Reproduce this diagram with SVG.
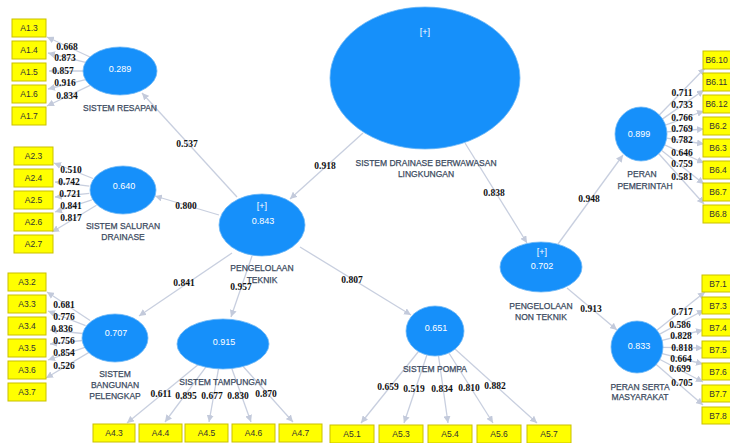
<svg xmlns="http://www.w3.org/2000/svg" width="730" height="443" viewBox="0 0 730 443">
<defs>
<marker id="ah" viewBox="0 0 10 10" refX="10" refY="5" markerWidth="7" markerHeight="7" markerUnits="userSpaceOnUse" orient="auto">
<path d="M0,0 L10,5 L0,10 z" fill="#c3cadb"/>
</marker>
<style>
.cn{stroke:#c8cfdf;stroke-width:1.3;fill:none;marker-end:url(#ah)}
.lv{fill:#1690fa;stroke:#6cb6f5;stroke-width:0.8}
.ind{fill:#ffff00;stroke:#c9c000;stroke-width:1}
.it{font-family:"Liberation Sans",Arial,sans-serif;font-size:8.5px;fill:#333;text-anchor:middle}
.vv{font-family:"Liberation Sans",Arial,sans-serif;font-size:9px;fill:#ffffff;text-anchor:middle}
.lb{font-family:"Liberation Sans",Arial,sans-serif;font-size:8.5px;fill:#3b4a60;stroke:#3b4a60;stroke-width:0.25;text-anchor:middle}
.ld{font-family:"Liberation Serif","Times New Roman",serif;font-size:9.5px;font-weight:bold;fill:#111;text-anchor:middle}
</style>
</defs>
<rect width="730" height="443" fill="#ffffff"/>

<g id="connectors">
<line class="cn" x1="363" y1="133" x2="290" y2="199"/>
<line class="cn" x1="465" y1="143" x2="527" y2="243"/>
<line class="cn" x1="237" y1="197" x2="142" y2="93"/>
<line class="cn" x1="219" y1="215" x2="155" y2="196"/>
<line class="cn" x1="232" y1="253" x2="139" y2="316"/>
<line class="cn" x1="252" y1="256" x2="231" y2="317"/>
<line class="cn" x1="300" y1="247" x2="411" y2="315"/>
<line class="cn" x1="558" y1="244" x2="623" y2="155"/>
<line class="cn" x1="567" y1="288" x2="617" y2="330"/>
<line class="cn" x1="90" y1="57" x2="47" y2="37"/>
<line class="cn" x1="85.5" y1="62.4" x2="48" y2="53"/>
<line class="cn" x1="83" y1="71" x2="49" y2="71"/>
<line class="cn" x1="85.5" y1="79.6" x2="48" y2="89"/>
<line class="cn" x1="90" y1="85.3" x2="47" y2="106"/>
<line class="cn" x1="93" y1="178.5" x2="54" y2="163"/>
<line class="cn" x1="89.4" y1="186.1" x2="55" y2="182"/>
<line class="cn" x1="89.3" y1="193.4" x2="55" y2="197"/>
<line class="cn" x1="91.9" y1="199.9" x2="55" y2="212"/>
<line class="cn" x1="96.5" y1="205.3" x2="52" y2="232"/>
<line class="cn" x1="90.1" y1="320.5" x2="47" y2="292"/>
<line class="cn" x1="85.6" y1="325.6" x2="48" y2="311"/>
<line class="cn" x1="82.3" y1="333.5" x2="50" y2="330"/>
<line class="cn" x1="82.3" y1="340.5" x2="50" y2="344"/>
<line class="cn" x1="84.9" y1="347.3" x2="48" y2="360"/>
<line class="cn" x1="89" y1="352.4" x2="46" y2="378"/>
<line class="cn" x1="197.7" y1="364.9" x2="127" y2="423"/>
<line class="cn" x1="205.8" y1="367.2" x2="165" y2="422"/>
<line class="cn" x1="218.5" y1="368.9" x2="209" y2="422"/>
<line class="cn" x1="231.8" y1="368.5" x2="251" y2="422"/>
<line class="cn" x1="243.2" y1="366.5" x2="293" y2="422"/>
<line class="cn" x1="418.5" y1="351.5" x2="361" y2="423"/>
<line class="cn" x1="426.9" y1="355" x2="404" y2="423"/>
<line class="cn" x1="438.5" y1="355.8" x2="448" y2="423"/>
<line class="cn" x1="448.9" y1="353" x2="493" y2="423"/>
<line class="cn" x1="455" y1="349" x2="537" y2="423"/>
<line class="cn" x1="659.1" y1="115.3" x2="705" y2="68"/>
<line class="cn" x1="662.3" y1="119.1" x2="704" y2="90"/>
<line class="cn" x1="665.4" y1="125.1" x2="704" y2="111"/>
<line class="cn" x1="666.9" y1="131.9" x2="704" y2="129"/>
<line class="cn" x1="666.7" y1="138.1" x2="704" y2="144"/>
<line class="cn" x1="664.6" y1="144.9" x2="704" y2="163"/>
<line class="cn" x1="661.4" y1="150.2" x2="704" y2="184"/>
<line class="cn" x1="658.4" y1="153.3" x2="704" y2="204"/>
<line class="cn" x1="656.3" y1="330.8" x2="705" y2="292"/>
<line class="cn" x1="658.8" y1="334.6" x2="704" y2="310"/>
<line class="cn" x1="661.2" y1="340.6" x2="703" y2="330"/>
<line class="cn" x1="662" y1="347.4" x2="703" y2="348"/>
<line class="cn" x1="661.2" y1="353.4" x2="703" y2="364"/>
<line class="cn" x1="659" y1="359" x2="703" y2="382"/>
<line class="cn" x1="655.7" y1="364" x2="703" y2="405"/>
</g>

<g id="loadings">
<text class="ld" x="67" y="50">0.668</text>
<text class="ld" x="65" y="61">0.873</text>
<text class="ld" x="63" y="74">0.857</text>
<text class="ld" x="65" y="86">0.916</text>
<text class="ld" x="67" y="99">0.834</text>
<text class="ld" x="71" y="173">0.510</text>
<text class="ld" x="69" y="185">0.742</text>
<text class="ld" x="70" y="197">0.721</text>
<text class="ld" x="71" y="209">0.841</text>
<text class="ld" x="71" y="221">0.817</text>
<text class="ld" x="64" y="308">0.681</text>
<text class="ld" x="64" y="320">0.776</text>
<text class="ld" x="62" y="332">0.836</text>
<text class="ld" x="64" y="344">0.756</text>
<text class="ld" x="64" y="356">0.854</text>
<text class="ld" x="64" y="369">0.526</text>
<text class="ld" x="161" y="397">0.611</text>
<text class="ld" x="186" y="399">0.895</text>
<text class="ld" x="212" y="399">0.677</text>
<text class="ld" x="238" y="399">0.830</text>
<text class="ld" x="266" y="397">0.870</text>
<text class="ld" x="388" y="390">0.659</text>
<text class="ld" x="414" y="392">0.519</text>
<text class="ld" x="442" y="392">0.834</text>
<text class="ld" x="469" y="391">0.810</text>
<text class="ld" x="495" y="389">0.882</text>
<text class="ld" x="682" y="96">0.711</text>
<text class="ld" x="682" y="108">0.733</text>
<text class="ld" x="682" y="121">0.766</text>
<text class="ld" x="682" y="132">0.769</text>
<text class="ld" x="682" y="143">0.782</text>
<text class="ld" x="682" y="156">0.646</text>
<text class="ld" x="682" y="167">0.759</text>
<text class="ld" x="682" y="180">0.581</text>
<text class="ld" x="682" y="315">0.717</text>
<text class="ld" x="680" y="328">0.586</text>
<text class="ld" x="681" y="339">0.828</text>
<text class="ld" x="682" y="351">0.818</text>
<text class="ld" x="681" y="362">0.664</text>
<text class="ld" x="680" y="372">0.699</text>
<text class="ld" x="682" y="386">0.705</text>
<text class="ld" x="187" y="147">0.537</text>
<text class="ld" x="186" y="209">0.800</text>
<text class="ld" x="325" y="169">0.918</text>
<text class="ld" x="184" y="286">0.841</text>
<text class="ld" x="241" y="290">0.957</text>
<text class="ld" x="352" y="283">0.807</text>
<text class="ld" x="494" y="196">0.838</text>
<text class="ld" x="589" y="202">0.948</text>
<text class="ld" x="591" y="312">0.913</text>
</g>

<g id="sdb">
<ellipse class="lv" cx="425" cy="78" rx="95" ry="71"/>
<text class="vv" x="425" y="35">[+]</text>
<text class="lb" x="426" y="166">SISTEM DRAINASE BERWAWASAN</text>
<text class="lb" x="426" y="177">LINGKUNGAN</text>
</g>
<g id="pt">
<ellipse class="lv" cx="262" cy="225" rx="43" ry="31"/>
<text class="vv" x="262" y="209">[+]</text>
<text class="vv" x="263" y="224">0.843</text>
<text class="lb" x="262" y="271">PENGELOLAAN</text>
<text class="lb" x="262" y="283">TEKNIK</text>
</g>
<g id="pnt">
<ellipse class="lv" cx="541" cy="267" rx="41" ry="25"/>
<text class="vv" x="542" y="255">[+]</text>
<text class="vv" x="542" y="269">0.702</text>
<text class="lb" x="541" y="309">PENGELOLAAN</text>
<text class="lb" x="541" y="320">NON TEKNIK</text>
</g>
<g id="resapan">
<ellipse class="lv" cx="120" cy="71" rx="37" ry="24"/>
<text class="vv" x="120" y="72">0.289</text>
<text class="lb" x="120" y="111">SISTEM RESAPAN</text>
</g>
<g id="saluran">
<ellipse class="lv" cx="123" cy="190" rx="33" ry="24"/>
<text class="vv" x="124" y="189">0.640</text>
<text class="lb" x="123" y="229">SISTEM SALURAN</text>
<text class="lb" x="123" y="240">DRAINASE</text>
</g>
<g id="bangunan">
<ellipse class="lv" cx="115" cy="338" rx="33" ry="24"/>
<text class="vv" x="116" y="336">0.707</text>
<text class="lb" x="115" y="377">SISTEM</text>
<text class="lb" x="115" y="388">BANGUNAN</text>
<text class="lb" x="115" y="399">PELENGKAP</text>
</g>
<g id="tampungan">
<ellipse class="lv" cx="223" cy="344" rx="46" ry="25"/>
<text class="vv" x="224" y="345">0.915</text>
<text class="lb" x="223" y="385">SISTEM TAMPUNGAN</text>
</g>
<g id="pompa">
<ellipse class="lv" cx="435" cy="331" rx="29" ry="25"/>
<text class="vv" x="436" y="331">0.651</text>
<text class="lb" x="435" y="372">SISTEM POMPA</text>
</g>
<g id="pemerintah">
<ellipse class="lv" cx="641" cy="134" rx="26" ry="27"/>
<text class="vv" x="639" y="137">0.899</text>
<text class="lb" x="642" y="177">PERAN</text>
<text class="lb" x="645" y="189">PEMERINTAH</text>
</g>
<g id="serta">
<ellipse class="lv" cx="637" cy="347" rx="26" ry="26"/>
<text class="vv" x="639" y="349">0.833</text>
<text class="lb" x="640" y="390">PERAN SERTA</text>
<text class="lb" x="640" y="400">MASYARAKAT</text>
</g>

<g id="A1.3"><rect class="ind" x="12" y="19" width="34" height="18"/><text class="it" x="29" y="31">A1.3</text></g>
<g id="A1.4"><rect class="ind" x="12" y="41" width="34" height="18"/><text class="it" x="29" y="53">A1.4</text></g>
<g id="A1.5"><rect class="ind" x="12" y="63" width="34" height="18"/><text class="it" x="29" y="75">A1.5</text></g>
<g id="A1.6"><rect class="ind" x="12" y="85" width="34" height="18"/><text class="it" x="29" y="97">A1.6</text></g>
<g id="A1.7"><rect class="ind" x="12" y="107" width="34" height="18"/><text class="it" x="29" y="119">A1.7</text></g>

<g id="A2.3"><rect class="ind" x="14" y="147" width="39" height="18"/><text class="it" x="33.5" y="159">A2.3</text></g>
<g id="A2.4"><rect class="ind" x="14" y="169" width="39" height="18"/><text class="it" x="33.5" y="181">A2.4</text></g>
<g id="A2.5"><rect class="ind" x="14" y="191" width="39" height="18"/><text class="it" x="33.5" y="203">A2.5</text></g>
<g id="A2.6"><rect class="ind" x="14" y="213" width="39" height="18"/><text class="it" x="33.5" y="225">A2.6</text></g>
<g id="A2.7"><rect class="ind" x="14" y="235" width="39" height="18"/><text class="it" x="33.5" y="247">A2.7</text></g>

<g id="A3.2"><rect class="ind" x="8" y="273" width="38" height="18"/><text class="it" x="27" y="285">A3.2</text></g>
<g id="A3.3"><rect class="ind" x="8" y="295" width="38" height="18"/><text class="it" x="27" y="307">A3.3</text></g>
<g id="A3.4"><rect class="ind" x="8" y="317" width="38" height="18"/><text class="it" x="27" y="329">A3.4</text></g>
<g id="A3.5"><rect class="ind" x="8" y="339" width="38" height="18"/><text class="it" x="27" y="351">A3.5</text></g>
<g id="A3.6"><rect class="ind" x="8" y="361" width="38" height="18"/><text class="it" x="27" y="373">A3.6</text></g>
<g id="A3.7"><rect class="ind" x="8" y="383" width="38" height="18"/><text class="it" x="27" y="395">A3.7</text></g>

<g id="A4.3"><rect class="ind" x="93" y="424" width="42" height="18"/><text class="it" x="114" y="436">A4.3</text></g>
<g id="A4.4"><rect class="ind" x="139" y="424" width="43" height="18"/><text class="it" x="160.5" y="436">A4.4</text></g>
<g id="A4.5"><rect class="ind" x="185" y="424" width="43" height="18"/><text class="it" x="206.5" y="436">A4.5</text></g>
<g id="A4.6"><rect class="ind" x="232" y="424" width="43" height="18"/><text class="it" x="253.5" y="436">A4.6</text></g>
<g id="A4.7"><rect class="ind" x="279" y="424" width="43" height="18"/><text class="it" x="300.5" y="436">A4.7</text></g>

<g id="A5.1"><rect class="ind" x="330" y="425" width="44" height="18"/><text class="it" x="352" y="437">A5.1</text></g>
<g id="A5.3"><rect class="ind" x="379" y="425" width="44" height="18"/><text class="it" x="401" y="437">A5.3</text></g>
<g id="A5.4"><rect class="ind" x="428" y="425" width="44" height="18"/><text class="it" x="450" y="437">A5.4</text></g>
<g id="A5.6"><rect class="ind" x="477" y="425" width="44" height="18"/><text class="it" x="499" y="437">A5.6</text></g>
<g id="A5.7"><rect class="ind" x="527" y="425" width="44" height="18"/><text class="it" x="549" y="437">A5.7</text></g>

<g id="B6.10"><rect class="ind" x="703" y="51" width="40" height="18"/><text class="it" x="716.5" y="63">B6.10</text></g>
<g id="B6.11"><rect class="ind" x="703" y="73" width="40" height="18"/><text class="it" x="716.5" y="85">B6.11</text></g>
<g id="B6.12"><rect class="ind" x="703" y="95" width="40" height="18"/><text class="it" x="716.5" y="107">B6.12</text></g>
<g id="B6.2"><rect class="ind" x="703" y="117" width="40" height="18"/><text class="it" x="718" y="129">B6.2</text></g>
<g id="B6.3"><rect class="ind" x="703" y="139" width="40" height="18"/><text class="it" x="718" y="151">B6.3</text></g>
<g id="B6.4"><rect class="ind" x="703" y="161" width="40" height="18"/><text class="it" x="718" y="173">B6.4</text></g>
<g id="B6.7"><rect class="ind" x="703" y="183" width="40" height="18"/><text class="it" x="718" y="195">B6.7</text></g>
<g id="B6.8"><rect class="ind" x="703" y="205" width="40" height="18"/><text class="it" x="718" y="217">B6.8</text></g>

<g id="B7.1"><rect class="ind" x="702" y="275" width="38" height="17"/><text class="it" x="718" y="286.5">B7.1</text></g>
<g id="B7.3"><rect class="ind" x="702" y="297" width="38" height="17"/><text class="it" x="718" y="308.5">B7.3</text></g>
<g id="B7.4"><rect class="ind" x="702" y="319" width="38" height="17"/><text class="it" x="718" y="330.5">B7.4</text></g>
<g id="B7.5"><rect class="ind" x="702" y="341" width="38" height="17"/><text class="it" x="718" y="352.5">B7.5</text></g>
<g id="B7.6"><rect class="ind" x="702" y="363" width="38" height="17"/><text class="it" x="718" y="374.5">B7.6</text></g>
<g id="B7.7"><rect class="ind" x="702" y="385" width="38" height="17"/><text class="it" x="718" y="396.5">B7.7</text></g>
<g id="B7.8"><rect class="ind" x="702" y="407" width="38" height="17"/><text class="it" x="718" y="418.5">B7.8</text></g>
</svg>
